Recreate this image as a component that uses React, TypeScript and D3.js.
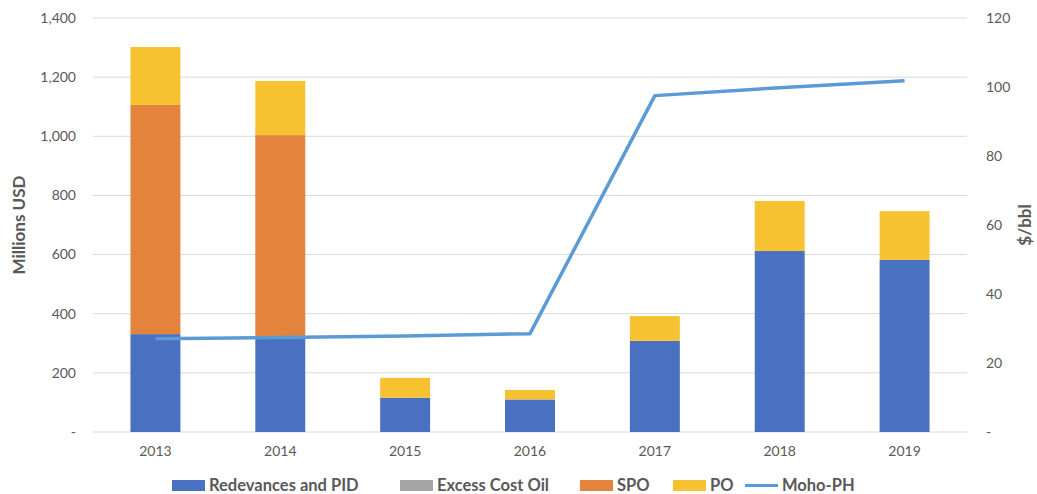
import { useEffect, useRef } from 'react'
import * as d3 from 'd3'

const years = ['2013', '2014', '2015', '2016', '2017', '2018', '2019']
const redevances = [331, 318, 116, 110, 308, 612, 582]
const excessCostOil = [0, 0, 0, 0, 0, 0, 0]
const spo = [775, 686, 0, 0, 0, 0, 0]
const po = [196, 183, 67, 32, 84, 169, 165]
const mohoPH = [27, 27.4, 27.8, 28.5, 97.5, 99.8, 101.8]

const leftTicks = [0, 200, 400, 600, 800, 1000, 1200, 1400]
const rightTicks = [0, 20, 40, 60, 80, 100, 120]

const seriesNames = ['Redevances and PID', 'Excess Cost Oil', 'SPO', 'PO']
const seriesColors = ['#4A70C2', '#A5A5A5', '#E3833C', '#F7C231']
const lineColor = '#5B9BD5'

function App() {
  const ref = useRef<SVGSVGElement>(null)

  useEffect(() => {
    const width = 1037
    const height = 494
    const left = 93
    const right = 967
    const top = 18
    const bottom = 432
    const font = 'Lato, "Open Sans", sans-serif'

    const svg = d3.select(ref.current)
    svg.selectAll('*').remove()
    svg.attr('width', width).attr('height', height)

    const x = d3.scaleBand().domain(years).range([left, right]).paddingInner(0.6).paddingOuter(0.3)
    const y = d3.scaleLinear().domain([0, 1400]).range([bottom, top])
    const y2 = d3.scaleLinear().domain([0, 120]).range([bottom, top])

    // gridlines
    svg.append('g')
      .selectAll('line')
      .data(leftTicks)
      .join('line')
      .attr('x1', left)
      .attr('x2', right)
      .attr('y1', d => y(d))
      .attr('y2', d => y(d))
      .attr('stroke', '#D9D9D9')
      .attr('stroke-width', 1)

    // stacked bars
    const table = years.map((yr, i) => ({
      year: yr,
      s0: redevances[i],
      s1: excessCostOil[i],
      s2: spo[i],
      s3: po[i],
    }))
    const stack = d3.stack<any>().keys(['s0', 's1', 's2', 's3'])(table)

    stack.forEach((layer, li) => {
      svg.append('g')
        .selectAll('rect')
        .data(layer)
        .join('rect')
        .attr('x', d => x(d.data.year)!)
        .attr('width', x.bandwidth())
        .attr('y', d => y(d[1]))
        .attr('height', d => y(d[0]) - y(d[1]))
        .attr('fill', seriesColors[li])
    })

    // line
    const line = d3.line<number>()
      .x((d, i) => x(years[i])! + x.bandwidth() / 2)
      .y(d => y2(d))
    svg.append('path')
      .datum(mohoPH)
      .attr('d', line)
      .attr('fill', 'none')
      .attr('stroke', lineColor)
      .attr('stroke-width', 3.5)
      .attr('stroke-linejoin', 'round')

    const fmt = d3.format(',')
    // left tick labels
    svg.append('g')
      .selectAll('text')
      .data(leftTicks)
      .join('text')
      .attr('x', 76)
      .attr('y', d => y(d))
      .attr('dy', '0.35em')
      .attr('text-anchor', 'end')
      .attr('font-family', font)
      .attr('font-size', 14)
      .attr('fill', '#595959')
      .text(d => (d === 0 ? '-' : fmt(d)))

    // right tick labels
    svg.append('g')
      .selectAll('text')
      .data(rightTicks)
      .join('text')
      .attr('x', 986)
      .attr('y', d => y2(d))
      .attr('dy', '0.35em')
      .attr('text-anchor', 'start')
      .attr('font-family', font)
      .attr('font-size', 14)
      .attr('fill', '#595959')
      .text(d => (d === 0 ? '-' : String(d)))

    // x labels
    svg.append('g')
      .selectAll('text')
      .data(years)
      .join('text')
      .attr('x', d => x(d)! + x.bandwidth() / 2)
      .attr('y', 456)
      .attr('text-anchor', 'middle')
      .attr('font-family', font)
      .attr('font-size', 14)
      .attr('fill', '#595959')
      .text(d => d)

    // axis titles
    svg.append('text')
      .attr('transform', `translate(25,225) rotate(-90)`)
      .attr('text-anchor', 'middle')
      .attr('font-family', font)
      .attr('font-size', 17)
      .attr('font-weight', 'bold')
      .attr('fill', '#595959')
      .text('Millions USD')

    svg.append('text')
      .attr('transform', `translate(1031,225) rotate(-90)`)
      .attr('text-anchor', 'middle')
      .attr('font-family', font)
      .attr('font-size', 17)
      .attr('font-weight', 'bold')
      .attr('fill', '#595959')
      .text('$/bbl')

    // legend
    const legendItems = [
      { name: seriesNames[0], color: seriesColors[0], x: 172, type: 'rect' },
      { name: seriesNames[1], color: seriesColors[1], x: 400, type: 'rect' },
      { name: seriesNames[2], color: seriesColors[2], x: 580, type: 'rect' },
      { name: seriesNames[3], color: seriesColors[3], x: 673, type: 'rect' },
      { name: 'Moho-PH', color: lineColor, x: 745, type: 'line' },
    ]
    const lg = svg.append('g')
    legendItems.forEach(item => {
      if (item.type === 'rect') {
        lg.append('rect')
          .attr('x', item.x)
          .attr('y', 480)
          .attr('width', 33)
          .attr('height', 11)
          .attr('fill', item.color)
      } else {
        lg.append('line')
          .attr('x1', item.x)
          .attr('x2', item.x + 33)
          .attr('y1', 485.5)
          .attr('y2', 485.5)
          .attr('stroke', item.color)
          .attr('stroke-width', 3)
      }
      lg.append('text')
        .attr('x', item.x + 37)
        .attr('y', 485)
        .attr('dy', '0.35em')
        .attr('font-family', font)
        .attr('font-size', 16.5)
        .attr('font-weight', 'bold')
        .attr('fill', '#595959')
        .text(item.name)
    })
  }, [])

  return <svg ref={ref} style={{ position: 'absolute', left: 0, top: 0, background: '#fff' }} />
}

export default App
